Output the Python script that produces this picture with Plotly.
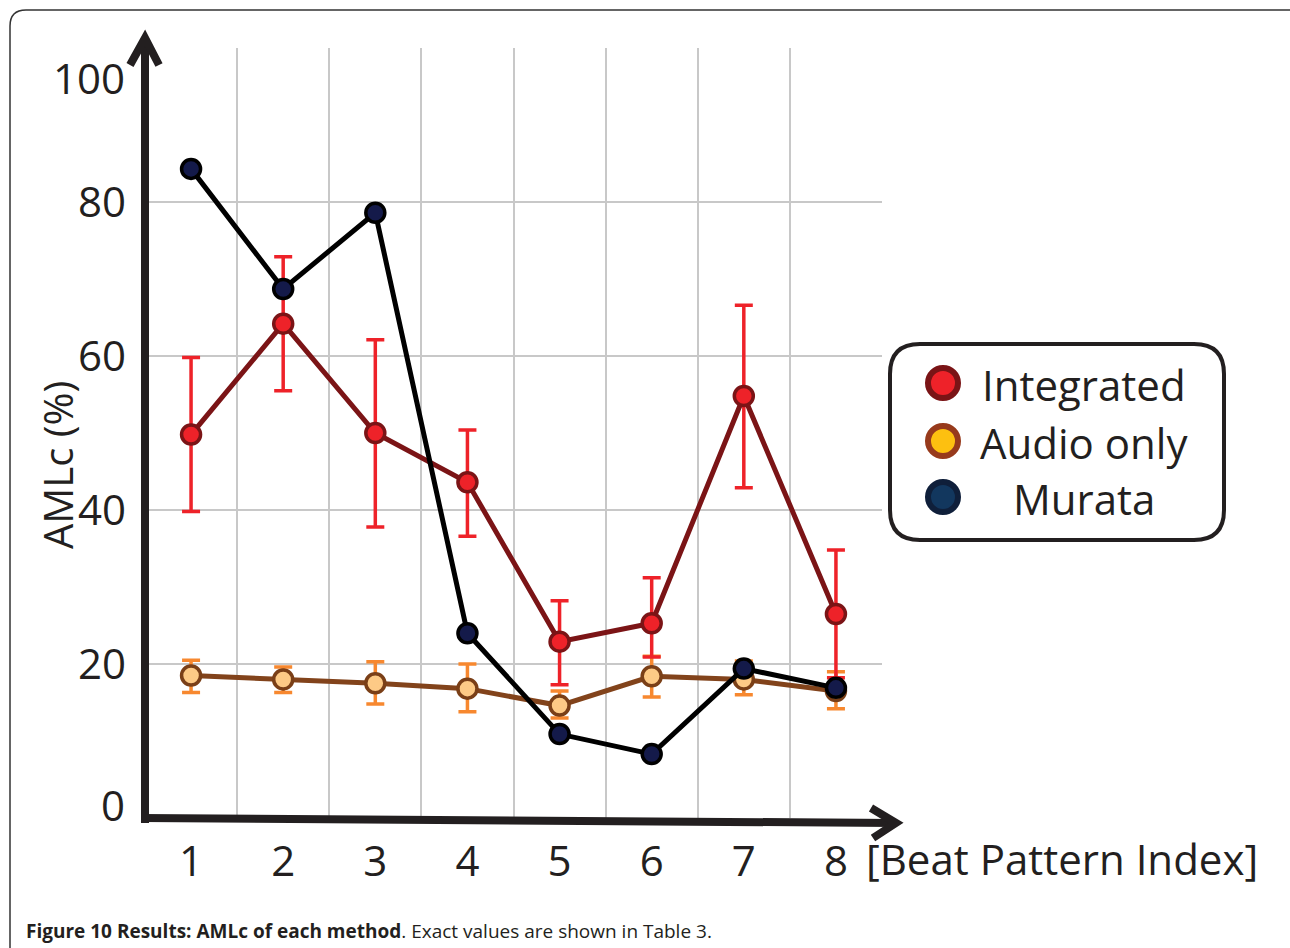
import plotly.graph_objects as go

# ---------------- data ----------------
beat_index = [1, 2, 3, 4, 5, 6, 7, 8]
x_tick_labels = ["1", "2", "3", "4", "5", "6", "7", "8"]
y_tick_values = [0, 20, 40, 60, 80, 100]
y_tick_labels = ["0", "20", "40", "60", "80", "100"]

integrated = [49.8, 64.2, 50.0, 43.6, 22.9, 25.3, 54.8, 26.5]
integrated_upper = [59.8, 72.9, 62.1, 50.4, 28.2, 31.2, 66.6, 34.8]
integrated_lower = [39.8, 55.5, 37.8, 36.6, 17.3, 20.9, 42.9, 18.2]

audio_only = [18.5, 18.0, 17.5, 16.8, 14.6, 18.4, 18.0, 16.5]
audio_upper = [20.5, 19.6, 20.3, 20.0, 16.5, 21.0, 20.4, 19.0]
audio_lower = [16.3, 16.3, 14.8, 13.8, 13.0, 15.7, 16.0, 14.2]

murata = [84.3, 68.7, 78.6, 24.0, 10.9, 8.3, 19.4, 16.9]

legend_names = ["Integrated", "Audio only", "Murata"]
x_title = "[Beat Pattern Index]"
y_title = "AMLc (%)"
caption_bold = "Figure 10 Results: AMLc of each method"
caption_rest = ". Exact values are shown in Table 3."

# ---------------- geometry helpers ----------------
W, H = 1290, 948
L, R, T, B = 145, 882, 48, 818  # plot area in pixels


def px(x):
    return (x - L) / (R - L)


def py(y):
    return (B - y) / (B - T)


INK = "#231F20"
FONT = "Open Sans, DejaVu Sans, sans-serif"

fig = go.Figure()

# Audio only
fig.add_trace(go.Scatter(
    x=beat_index, y=audio_only, mode="lines+markers", name=legend_names[1],
    line=dict(color="#82431B", width=5),
    marker=dict(size=19, color="#FDCA86", line=dict(color="#7A3F17", width=3.5)),
    error_y=dict(type="data", symmetric=False,
                 array=[u - v for u, v in zip(audio_upper, audio_only)],
                 arrayminus=[v - d for v, d in zip(audio_only, audio_lower)],
                 color="#F7882F", thickness=3.5, width=9),
    showlegend=False,
))

# Integrated
fig.add_trace(go.Scatter(
    x=beat_index, y=integrated, mode="lines+markers", name=legend_names[0],
    line=dict(color="#7B1416", width=5),
    marker=dict(size=19, color="#EE2229", line=dict(color="#7B1416", width=3.5)),
    error_y=dict(type="data", symmetric=False,
                 array=[u - v for u, v in zip(integrated_upper, integrated)],
                 arrayminus=[v - d for v, d in zip(integrated, integrated_lower)],
                 color="#EE2229", thickness=3.5, width=9),
    showlegend=False,
))

# Murata
fig.add_trace(go.Scatter(
    x=beat_index, y=murata, mode="lines+markers", name=legend_names[2],
    line=dict(color="#000000", width=5),
    marker=dict(size=19, color="#141A4A", line=dict(color="#000000", width=3.5)),
    showlegend=False,
))

shapes = []
# outer rounded frame (right and bottom edges run off the page)
r0 = 16
x0f, y0f, x1f, y1f = 10, 10, 1320, 980
path = (f"M {px(x0f+r0)} {py(y0f)} L {px(x1f-r0)} {py(y0f)} "
        f"Q {px(x1f)} {py(y0f)} {px(x1f)} {py(y0f+r0)} L {px(x1f)} {py(y1f)} "
        f"L {px(x0f)} {py(y1f)} L {px(x0f)} {py(y0f+r0)} "
        f"Q {px(x0f)} {py(y0f)} {px(x0f+r0)} {py(y0f)} Z")
shapes.append(dict(type="path", xref="paper", yref="paper", path=path,
                   line=dict(color="#333333", width=1.5), layer="below"))

# axes lines with chevron arrows
shapes.append(dict(type="line", xref="paper", yref="paper",
                   x0=px(145), y0=py(823), x1=px(145), y1=py(40),
                   line=dict(color=INK, width=8)))
shapes.append(dict(type="path", xref="paper", yref="paper",
                   path=f"M {px(130)} {py(65)} L {px(145)} {py(38)} L {px(159)} {py(65)}",
                   line=dict(color=INK, width=8)))
shapes.append(dict(type="line", xref="paper", yref="paper",
                   x0=px(141), y0=py(818), x1=px(895), y1=py(823),
                   line=dict(color=INK, width=8)))
shapes.append(dict(type="path", xref="paper", yref="paper",
                   path=f"M {px(871)} {py(808)} L {px(896)} {py(823)} L {px(873)} {py(838)}",
                   line=dict(color=INK, width=8)))

# legend box
lx0, ly0, lx1, ly1, lr = 890, 344, 1224, 540, 30
lpath = (f"M {px(lx0+lr)} {py(ly0)} L {px(lx1-lr)} {py(ly0)} "
         f"Q {px(lx1)} {py(ly0)} {px(lx1)} {py(ly0+lr)} L {px(lx1)} {py(ly1-lr)} "
         f"Q {px(lx1)} {py(ly1)} {px(lx1-lr)} {py(ly1)} L {px(lx0+lr)} {py(ly1)} "
         f"Q {px(lx0)} {py(ly1)} {px(lx0)} {py(ly1-lr)} L {px(lx0)} {py(ly0+lr)} "
         f"Q {px(lx0)} {py(ly0)} {px(lx0+lr)} {py(ly0)} Z")
shapes.append(dict(type="path", xref="paper", yref="paper", path=lpath,
                   fillcolor="white", line=dict(color=INK, width=4)))

legend_fill = ["#EE2229", "#FDC010", "#12375E"]
legend_edge = ["#7A1416", "#973A1C", "#0F1F3A"]
legend_y = [383, 441, 497]
for fc, ec, yy in zip(legend_fill, legend_edge, legend_y):
    rr = 15
    shapes.append(dict(type="circle", xref="paper", yref="paper",
                       x0=px(943 - rr), x1=px(943 + rr), y0=py(yy + rr), y1=py(yy - rr),
                       fillcolor=fc, line=dict(color=ec, width=6)))

annotations = []
for name, yy in zip(legend_names, legend_y):
    annotations.append(dict(xref="paper", yref="paper", x=px(1084), y=py(yy + 1),
                            text=name, showarrow=False, xanchor="center", yanchor="middle",
                            font=dict(family=FONT, size=42, color=INK)))

# the end labels (0 and 100) sit slightly inside the axis range in the original
axis_label_text = list(y_tick_labels)
end_label_shift = {0: 14, 100: -29}
for val, shift in end_label_shift.items():
    i = y_tick_values.index(val)
    annotations.append(dict(xref="paper", yref="y", x=px(127), y=val, yshift=shift,
                            text=y_tick_labels[i], showarrow=False,
                            xanchor="right", yanchor="middle",
                            font=dict(family=FONT, size=42, color=INK)))
    axis_label_text[i] = ""

annotations.append(dict(xref="paper", yref="paper", x=px(57), y=py(465),
                        text=y_title, textangle=-90, showarrow=False,
                        xanchor="center", yanchor="middle",
                        font=dict(family=FONT, size=40, color=INK)))
annotations.append(dict(xref="paper", yref="paper", x=px(1062), y=py(858),
                        text=x_title, showarrow=False, xanchor="center", yanchor="middle",
                        font=dict(family=FONT, size=42, color=INK)))
annotations.append(dict(xref="paper", yref="paper", x=px(24), y=py(931),
                        text=f"<b>{caption_bold}</b>{caption_rest}", showarrow=False,
                        xanchor="left", yanchor="middle",
                        font=dict(family=FONT, size=19, color=INK)))

fig.update_layout(
    width=W, height=H, autosize=False,
    margin=dict(l=L, r=W - R, t=T, b=H - B, pad=0),
    paper_bgcolor="white", plot_bgcolor="white",
    shapes=shapes, annotations=annotations,
    xaxis=dict(range=[0.5, 8.5], tickvals=beat_index, ticktext=x_tick_labels,
               showgrid=False, zeroline=False, showline=False, ticks="",
               ticklabelstandoff=15,
               tickfont=dict(family=FONT, size=42, color=INK),
               minor=dict(tickvals=[1.5, 2.5, 3.5, 4.5, 5.5, 6.5, 7.5, 8.5],
                          showgrid=True, gridcolor="#C8C8C8", gridwidth=2, ticks="")),
    yaxis=dict(range=[0, 100], tickvals=y_tick_values, ticktext=axis_label_text,
               showgrid=False, zeroline=False, showline=False, ticks="",
               ticklabelstandoff=18,
               tickfont=dict(family=FONT, size=42, color=INK),
               minor=dict(tickvals=[20, 40, 60, 80], showgrid=True,
                          gridcolor="#C8C8C8", gridwidth=2, ticks="")),
    showlegend=False,
)

fig.write_html("out.html", config={"displayModeBar": False},
               post_script="document.body.style.margin='0';")
